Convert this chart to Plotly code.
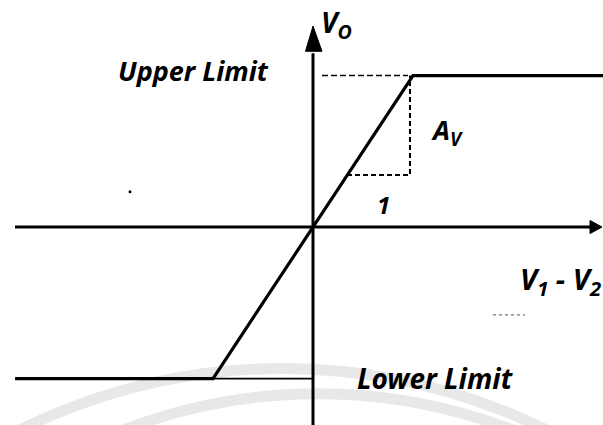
import plotly.graph_objects as go

# Transfer characteristic (arbitrary units)
vin = [-2.98, -1.0, 1.0, 2.9]
vout = [-1.5, -1.5, 1.5, 1.5]
upper_limit = 1.5
lower_limit = -1.5
# slope triangle
tri_x = [0.34, 0.97, 0.97]
tri_y = [0.515, 0.515, 1.5]

X0, X1 = -3.13, 2.90
Y0, Y1 = -1.96, 2.248

fig = go.Figure()

# faint watermark arcs
for cx, cy, r, w in [(-0.3, -7.4, 6.0, 11), (0.05, -7.1, 5.45, 11)]:
    fig.add_shape(type="circle", x0=cx - r, x1=cx + r, y0=cy - r, y1=cy + r,
                  xref="x", yref="y", line=dict(color="rgba(0,0,0,0.09)", width=w), layer="below")

# axes
fig.add_shape(type="line", x0=-2.98, x1=2.80, y0=0, y1=0, line=dict(color="black", width=3))
fig.add_shape(type="line", x0=0, x1=0, y0=Y0, y1=1.72, line=dict(color="black", width=3))
# arrowheads
fig.add_shape(type="path", path="M 2.77 0.065 L 2.89 0 L 2.77 -0.065 Z",
              fillcolor="black", line=dict(color="black", width=1))
fig.add_shape(type="path", path="M -0.075 1.74 L 0.0 1.99 L 0.09 1.74 Z",
              fillcolor="black", line=dict(color="black", width=1))

# dashed guides
fig.add_trace(go.Scatter(x=[0.09, 0.95], y=[upper_limit, upper_limit], mode="lines",
                         line=dict(color="black", width=1.6, dash="6px,3px"), hoverinfo="skip"))
fig.add_trace(go.Scatter(x=tri_x, y=tri_y, mode="lines",
                         line=dict(color="black", width=2, dash="5px,3px"), hoverinfo="skip"))
fig.add_trace(go.Scatter(x=[vin[1], 0], y=[lower_limit, lower_limit], mode="lines",
                         line=dict(color="black", width=1.8), hoverinfo="skip"))

# characteristic
fig.add_trace(go.Scatter(x=vin, y=vout, mode="lines",
                         line=dict(color="black", width=3.2), hoverinfo="skip"))

# stray dot
fig.add_trace(go.Scatter(x=[-1.83], y=[0.35], mode="markers",
                         marker=dict(color="black", size=3), hoverinfo="skip"))

font = dict(family="Noto Sans", size=20, color="black", style="italic", weight="bold")
def lab(x, y, t, size=20, xanchor="center"):
    f = dict(font); f["size"] = size
    fig.add_annotation(x=x, y=y, text=t, showarrow=False, font=f, xanchor=xanchor)

lab(-1.20, 1.55, "Upper Limit", 27)
lab(1.22, -1.49, "Lower Limit", 28)
lab(0.23, 2.01, "<i>V</i><sub>O</sub>", 28)
lab(1.34, 0.95, "<i>A</i><sub>V</sub>", 27)
lab(0.70, 0.22, "1", 24)
lab(2.47, -0.53, "<i>V</i><sub>1</sub> − <i>V</i><sub>2</sub>", 29)
fig.add_shape(type="line", x0=1.80, x1=2.12, y0=-0.87, y1=-0.87,
              line=dict(color="rgba(0,0,0,0.55)", width=1.3, dash="dot"))

fig.update_layout(
    width=603, height=425, margin=dict(l=0, r=0, t=0, b=0),
    paper_bgcolor="white", plot_bgcolor="white", showlegend=False,
    xaxis=dict(range=[X0, X1], visible=False, fixedrange=True),
    yaxis=dict(range=[Y0, Y1], visible=False, fixedrange=True),
)
fig.write_html("out.html", config={"displayModeBar": False},
               post_script="document.body.style.margin='0';")
